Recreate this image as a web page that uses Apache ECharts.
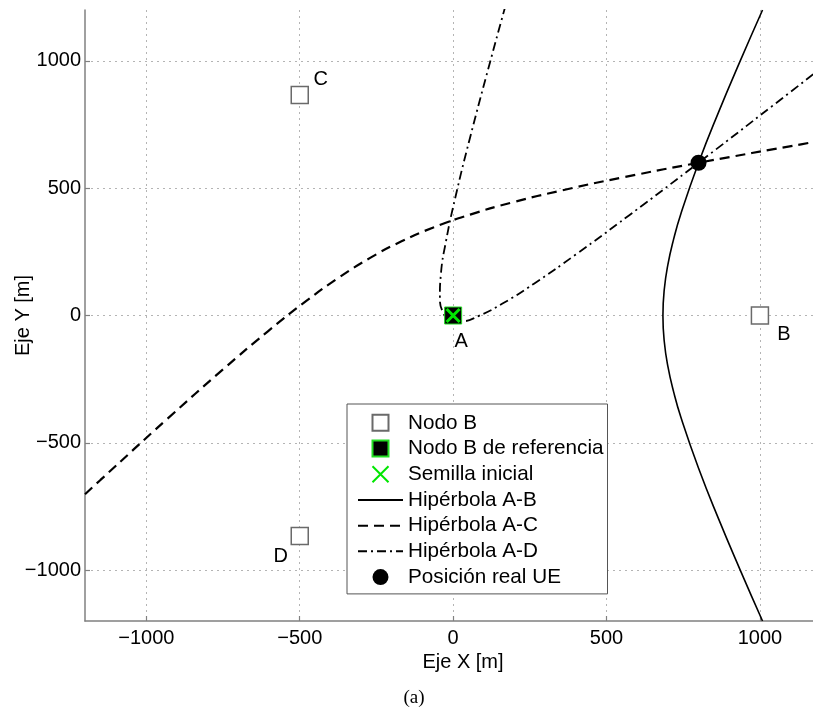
<!DOCTYPE html>
<html>
<head>
<meta charset="utf-8">
<script src="https://cdn.jsdelivr.net/npm/echarts@6/dist/echarts.min.js"></script>
<style>
html,body{margin:0;padding:0;background:#fff;}
#chart{width:813px;height:713px;}
</style>
</head>
<body>
<div id="chart"></div>
<script>
// ---- data ----
const xTicks = [-1000, -500, 0, 500, 1000];
const yTicks = [-1000, -500, 0, 500, 1000];

const nodeNames = ['B', 'C', 'D'];
const nodeX = [1000, -500, -500];
const nodeY = [0, 866, -866];

const refNodeName = 'A';
const refNode = [0, 0];
const seed = [0, 0];
const ue = [800, 600];

const hypAB = [
  [1008.5, -1200], [935.8, -1000], [865.6, -800], [800, -600], [742.4, -400],
  [718.7, -300], [700, -200], [688, -100], [683.8, 0], [688, 100], [700, 200],
  [718.7, 300], [742.4, 400], [800, 600], [865.6, 800], [935.8, 1000], [1008.5, 1200]
];
const hypAC = [
  [-1199.9, -702.1], [-1149.5, -645.9], [-929, -403.1], [-751.1, -212.8], [-604.8, -63.1],
  [-480.7, 55.4], [-371, 150.2], [-269.1, 227.3], [-168.3, 291.4], [-62.3, 346.7],
  [55.4, 396.4], [192.3, 444], [357, 492.1], [559.9, 544], [813.6, 602.9],
  [1134.1, 672.5], [1207.9, 688.1]
];
const hypAD = [
  [170.7, 1217.1], [120.3, 995], [54.2, 694.3], [7.3, 464.3], [-23.4, 290.9],
  [-39.9, 162.8], [-43.2, 72.1], [-33.4, 13.2], [-10.2, -17.6], [28.2, -22.4],
  [84, -1.3], [160.9, 46.8], [263.6, 125.1], [398.5, 238.5], [574.2, 394.1],
  [801.7, 601.6], [1095.2, 874.1], [1235.1, 1005]
];

// ---- styles ----
const FONT = 'Liberation Sans, Arial, Helvetica, sans-serif';
const SQUARE = 'path://M0,0L10,0L10,10L0,10Z';
const CROSS = 'path://M0,0L10,10M10,0L0,10';
const nodeLabelOffset = { A: [8, 26], B: [24, 19], C: [21, -16], D: [-19, 21] };
const minusFmt = v => String(v).replace('-', '\u2212');

function axisCommon(ticks) {
  return {
    type: 'value',
    axisLine: { show: true, onZero: false, lineStyle: { color: '#808080', width: 1.5 } },
    axisTick: { show: true, inside: true, length: 5, customValues: ticks,
      lineStyle: { color: '#808080', width: 1.2 } },
    axisLabel: { customValues: ticks, formatter: minusFmt, color: '#000',
      fontSize: 20, fontFamily: FONT },
    splitLine: { show: true, lineStyle: { color: '#b4b4b4', type: [2, 4], width: 1 } },
    nameLocation: 'middle',
    nameTextStyle: { color: '#000', fontSize: 20, fontFamily: FONT }
  };
}

const xAxis = Object.assign(axisCommon(xTicks), {
  min: -1200, max: 1173, name: 'Eje X [m]', nameGap: 25
});
xAxis.axisLabel.margin = 7;
xAxis.nameTextStyle.padding = [0, 0, 0, 28];

const yAxis = Object.assign(axisCommon(yTicks), {
  min: -1200, max: 1200, name: 'Eje Y [m]', nameGap: 52, nameMoveOverlap: false
});
yAxis.axisLabel.margin = 4;

const labelBase = { show: true, position: 'inside', formatter: '{b}', color: '#000',
  fontSize: 20, fontFamily: FONT };

const nodeData = nodeNames.map((n, i) => ({
  name: n, value: [nodeX[i], nodeY[i]],
  label: { offset: nodeLabelOffset[n] }
}));

const hidden = { color: '#000', opacity: 0 };

const option = {
  backgroundColor: '#fff',
  animation: false,
  grid: { left: 85, right: 0, top: 10, bottom: 92, containLabel: false, outerBoundsMode: 'none' },
  xAxis: xAxis,
  yAxis: yAxis,
  legend: {
    orient: 'vertical', left: 347, top: 404,
    data: ['Nodo B', 'Nodo B de referencia', 'Semilla inicial',
      'Hipérbola A-B', 'Hipérbola A-C', 'Hipérbola A-D', 'Posición real UE'],
    itemWidth: 45, itemHeight: 16, itemGap: 0,
    padding: [6, 4, 4, 10],
    backgroundColor: '#fff', borderColor: '#555', borderWidth: 1,
    selectedMode: false,
    textStyle: { color: '#000', fontSize: 20.7, fontFamily: FONT, lineHeight: 25.7 }
  },
  graphic: [{
    type: 'text', x: 414, y: 698, z: 10,
    style: { text: '(a)', font: '19px "Liberation Serif", "Times New Roman", serif',
      fill: '#000', align: 'center', verticalAlign: 'middle' }
  }],
  series: [
    { name: 'Hipérbola A-B', type: 'line', data: hypAB, smooth: true, showSymbol: false,
      symbol: 'none', itemStyle: hidden,
      lineStyle: { color: '#000', width: 1.6, type: 'solid' }, z: 2 },
    { name: 'Hipérbola A-C', type: 'line', data: hypAC, smooth: true, showSymbol: false,
      symbol: 'none', itemStyle: hidden,
      lineStyle: { color: '#000', width: 2.2, type: [10, 6] }, z: 2 },
    { name: 'Hipérbola A-D', type: 'line', data: hypAD, smooth: true, showSymbol: false,
      symbol: 'none', itemStyle: hidden,
      lineStyle: { color: '#000', width: 1.8, type: [9, 4, 2, 4] }, z: 2 },
    { name: 'Nodo B', type: 'scatter', data: nodeData, symbol: SQUARE, symbolSize: 17,
      itemStyle: { color: '#fff', borderColor: '#6a6a6a', borderWidth: 1.5, opacity: 1 },
      label: labelBase, z: 3 },
    { name: 'Nodo B de referencia', type: 'scatter', symbol: SQUARE, symbolSize: 17,
      data: [{ name: refNodeName, value: refNode, label: { offset: nodeLabelOffset[refNodeName] } }],
      itemStyle: { color: '#000', borderColor: '#22dd22', borderWidth: 1, opacity: 1 },
      label: labelBase, z: 4 },
    { name: 'Semilla inicial', type: 'scatter', data: [seed],
      symbol: CROSS, symbolSize: 13,
      itemStyle: { color: '#00e600', borderColor: '#00e600', borderWidth: 3, opacity: 1 }, z: 5 },
    { name: 'Posición real UE', type: 'scatter', data: [ue], symbol: 'circle', symbolSize: 16,
      itemStyle: { color: '#000', opacity: 1 }, z: 6 }
  ]
};

const chart = echarts.init(document.getElementById('chart'), null, { renderer: 'canvas' });
chart.setOption(option);
</script>
</body>
</html>
